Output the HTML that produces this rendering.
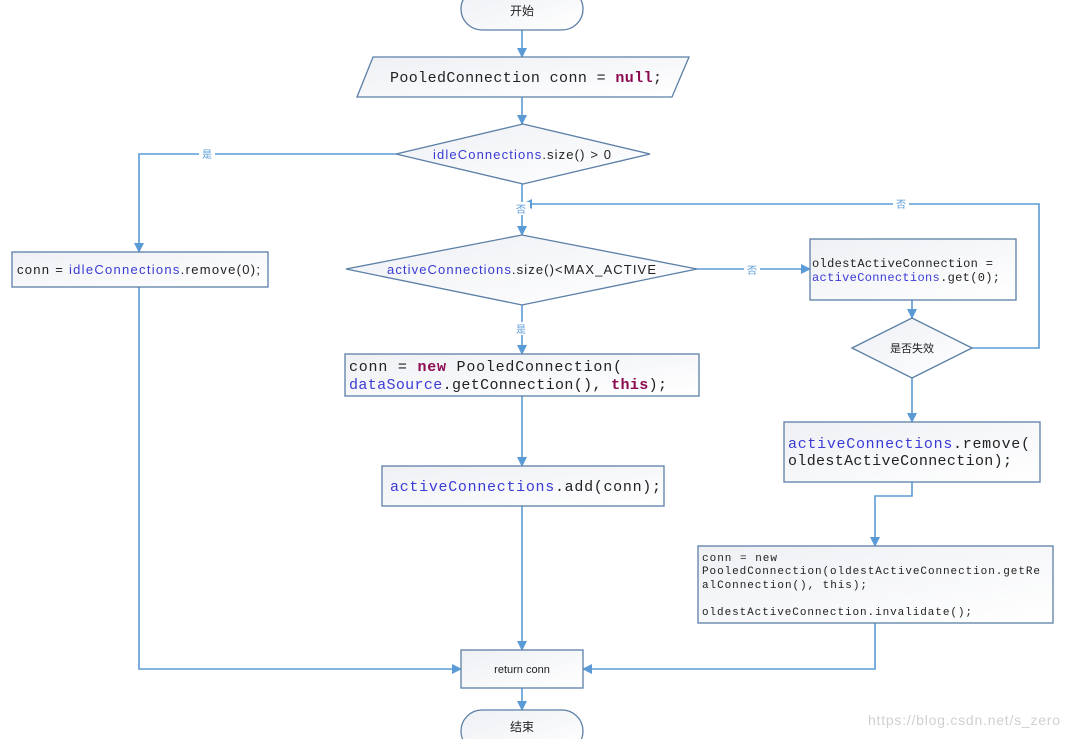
<!DOCTYPE html>
<html><head><meta charset="utf-8"><style>
html,body{margin:0;padding:0;background:#fff;}
svg{display:block}
.m{font-family:"Liberation Mono",monospace;fill:#222}
.s{font-family:"Liberation Sans","Noto Sans CJK SC",sans-serif;fill:#222}
.b{fill:#3b3bd6}.k{fill:#8b0a50;font-weight:bold}
.sh{fill:url(#g);stroke:#5b7fa6;stroke-width:1.3}
.ln{stroke:#5b9bd5;stroke-width:1.6;fill:none}
.lb{font-family:"Noto Sans CJK SC",sans-serif;font-size:10px;fill:#5b9bd5}
</style></head><body>
<svg width="1069" height="739" viewBox="0 0 1069 739" xmlns="http://www.w3.org/2000/svg">
<defs>
<linearGradient id="g" x1="0" y1="0" x2="1" y2="1"><stop offset="0" stop-color="#eef0f4"/><stop offset="1" stop-color="#ffffff"/></linearGradient>
<marker id="a" markerWidth="10" markerHeight="10" refX="9" refY="5" orient="auto" markerUnits="userSpaceOnUse"><path d="M0,0 L10,5 L0,10 z" fill="#5b9bd5"/></marker>
</defs>
<path class="ln" d="M522,30 V57" marker-end="url(#a)"/>
<path class="ln" d="M522,97 V124" marker-end="url(#a)"/>
<path class="ln" d="M396,154 H139 V252" marker-end="url(#a)"/>
<path class="ln" d="M139,287 V669 H461" marker-end="url(#a)"/>
<path class="ln" d="M522,184 V235" marker-end="url(#a)"/>
<path class="ln" d="M972,348 H1039 V204 H523" marker-end="url(#a)"/>
<path class="ln" d="M697,269 H810" marker-end="url(#a)"/>
<path class="ln" d="M912,300 V318" marker-end="url(#a)"/>
<path class="ln" d="M912,378 V422" marker-end="url(#a)"/>
<path class="ln" d="M912,482 V496 H875 V546" marker-end="url(#a)"/>
<path class="ln" d="M875,623 V669 H583" marker-end="url(#a)"/>
<path class="ln" d="M522,305 V354" marker-end="url(#a)"/>
<path class="ln" d="M522,396 V466" marker-end="url(#a)"/>
<path class="ln" d="M522,506 V650" marker-end="url(#a)"/>
<path class="ln" d="M522,688 V710" marker-end="url(#a)"/>
<rect x="199" y="147" width="16" height="13" fill="#fff"/><text class="lb" x="207" y="158" text-anchor="middle">是</text>
<rect x="514" y="202" width="16" height="13" fill="#fff"/><text class="lb" x="521" y="213" text-anchor="middle">否</text>
<rect x="893" y="197" width="16" height="13" fill="#fff"/><text class="lb" x="901" y="208" text-anchor="middle">否</text>
<rect x="744" y="263" width="16" height="13" fill="#fff"/><text class="lb" x="752" y="274" text-anchor="middle">否</text>
<rect x="514" y="322" width="16" height="13" fill="#fff"/><text class="lb" x="521" y="333" text-anchor="middle">是</text>
<rect class="sh" x="461" y="-12" width="122" height="42" rx="21"/>
<text class="s" x="522" y="15" font-size="12" text-anchor="middle">开始</text>
<polygon class="sh" points="373,57 689,57 672,97 357,97"/>
<text class="m" x="390" y="82" font-size="15" textLength="272">PooledConnection conn = <tspan class="k">null</tspan>;</text>
<polygon class="sh" points="396,154 523,124 650,154 523,184"/>
<text class="s" x="433" y="159" font-size="13" textLength="178"><tspan class="b">idleConnections</tspan>.size() &gt; 0</text>
<rect class="sh" x="12" y="252" width="256" height="35"/>
<text class="s" x="17" y="274" font-size="13" textLength="243">conn = <tspan class="b">idleConnections</tspan>.remove(0);</text>
<polygon class="sh" points="346,269 522,235 697,269 522,305"/>
<text class="s" x="387" y="274" font-size="13" textLength="269"><tspan class="b">activeConnections</tspan>.size()&lt;MAX_ACTIVE</text>
<rect class="sh" x="810" y="239" width="206" height="61"/>
<text class="m" x="812" y="267" font-size="12" textLength="181">oldestActiveConnection =</text>
<text class="m" x="812" y="281" font-size="12" textLength="188"><tspan class="b">activeConnections</tspan>.get(0);</text>
<polygon class="sh" points="852,348 912,318 972,348 912,378"/>
<text class="s" x="912" y="352" font-size="11" text-anchor="middle">是否失效</text>
<rect class="sh" x="784" y="422" width="256" height="60"/>
<text class="m" x="788" y="448" font-size="15" textLength="242"><tspan class="b">activeConnections</tspan>.remove(</text>
<text class="m" x="788" y="465" font-size="15" textLength="224">oldestActiveConnection);</text>
<rect class="sh" x="698" y="546" width="355" height="77"/>
<g class="m" font-size="11">
<text x="702" y="561" textLength="75">conn = new</text>
<text x="702" y="574" textLength="338">PooledConnection(oldestActiveConnection.getRe</text>
<text x="702" y="588" textLength="165">alConnection(), this);</text>
<text x="702" y="615" textLength="270">oldestActiveConnection.invalidate();</text>
</g>
<rect class="sh" x="345" y="354" width="354" height="42"/>
<text class="m" x="349" y="371" font-size="15" textLength="273">conn = <tspan class="k">new</tspan> PooledConnection(</text>
<text class="m" x="349" y="389" font-size="15" textLength="318"><tspan class="b">dataSource</tspan>.getConnection(), <tspan class="k">this</tspan>);</text>
<rect class="sh" x="382" y="466" width="282" height="40"/>
<text class="m" x="390" y="491" font-size="15" textLength="271"><tspan class="b">activeConnections</tspan>.add(conn);</text>
<rect class="sh" x="461" y="650" width="122" height="38"/>
<text class="s" x="522" y="673" font-size="11" text-anchor="middle">return conn</text>
<rect class="sh" x="461" y="710" width="122" height="42" rx="21"/>
<text class="s" x="522" y="731" font-size="12" text-anchor="middle">结束</text>
<text x="868" y="725" font-family="Liberation Sans,sans-serif" font-size="14" textLength="192" fill="#d0d0d0">https://blog.csdn.net/s_zero</text>
</svg>
</body></html>
